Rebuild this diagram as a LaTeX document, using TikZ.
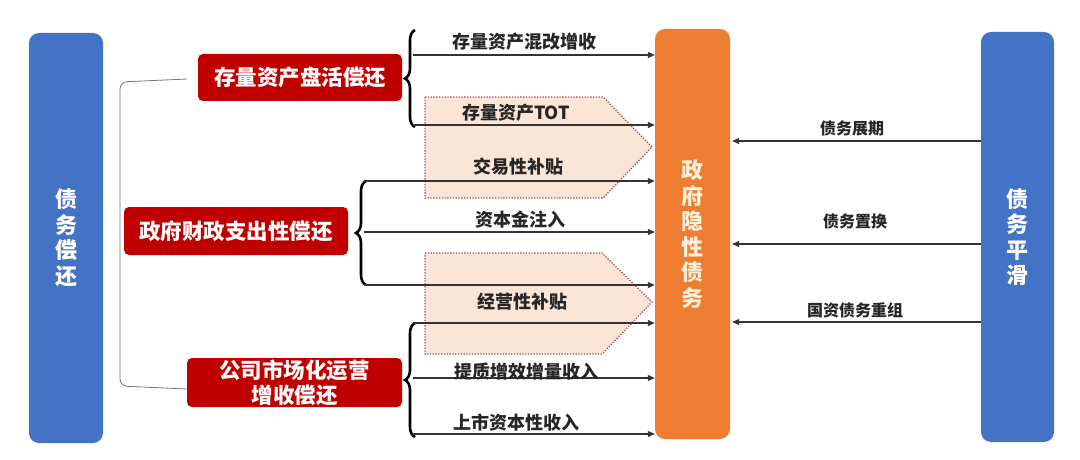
\documentclass[tikz,border=0pt]{standalone}
\usepackage{fontspec}
\newfontfamily\cjk{Noto Sans CJK SC}
\usetikzlibrary{arrows.meta,decorations.pathreplacing}
\definecolor{myblue}{HTML}{4472C4}
\definecolor{myorange}{HTML}{ED7D31}
\definecolor{myred}{HTML}{C00000}
\definecolor{mypeach}{HTML}{FBE5D6}
\definecolor{mydot}{HTML}{A0525A}
\definecolor{orangetext}{HTML}{FFF0DC}
\begin{document}
\begin{tikzpicture}[x=1pt,y=-1pt,
  font=\cjk,
  sidebox/.style={fill=myblue, rounded corners=10pt, text=white, align=center,
     font=\cjk\bfseries\fontsize{22}{25.5}\selectfont, inner sep=0pt},
  centerbox/.style={fill=myorange, rounded corners=10pt, text=orangetext, align=center,
     font=\cjk\bfseries\fontsize{22}{25.5}\selectfont, inner sep=0pt},
  redbox/.style={fill=myred, rounded corners=5pt, text=white, align=center,
     font=\cjk\bfseries\fontsize{21.5}{25}\selectfont, inner sep=0pt},
  lbl/.style={font=\cjk\bfseries\fontsize{18}{20}\selectfont, text=black!85, inner sep=0pt},
  rlbl/.style={font=\cjk\bfseries\fontsize{16}{18}\selectfont, text=black!85, inner sep=0pt},
  flow/.style={draw=black!80, line width=1.1pt, -{Triangle[length=7pt,width=6pt]}},
  bracebar/.style={draw=black, line width=2.6pt, decorate, decoration={brace, amplitude=10pt}},
  pent/.style={fill=mypeach, draw=mydot, line width=1.3pt, dash pattern=on 1.3pt off 1.5pt},
  linkline/.style={draw=black!55, line width=0.8pt, rounded corners=7pt}
]
\useasboundingbox (0,0) rectangle (1080,460);

% arrow-shaped backgrounds
\path[pent] (425,97) -- (603,97) -- (652,147) -- (603,198) -- (425,198) -- cycle;
\path[pent] (425,253) -- (602,253) -- (652,302) -- (602,354) -- (425,354) -- cycle;

% main boxes
\node[sidebox, minimum width=74pt, minimum height=410pt] (L) at (66,238) {债\\务\\偿\\还};
\node[sidebox, minimum width=73pt, minimum height=410pt] (R) at (1017.5,237) {债\\务\\平\\滑};
\node[centerbox, minimum width=75pt, minimum height=410pt] (O) at (692.5,234) {政\\府\\隐\\性\\债\\务};

\node[redbox, minimum width=204pt, minimum height=47pt] (r1) at (300,77.5) {存量资产盘活偿还};
\node[redbox, minimum width=224pt, minimum height=48pt] (r2) at (236,231) {政府财政支出性偿还};
\node[redbox, minimum width=215pt, minimum height=49pt] (r3) at (294.5,382.5) {公司市场化运营\\增收偿还};

% left grey link
\coordinate (k1) at (187,79);
\coordinate (k3) at (187,389);
\draw[linkline] (k1) -- (120,82) -- (120,386) -- (k3);

% braces
\coordinate (b1t) at (415,30);  \coordinate (b1b) at (415,127);
\coordinate (b2t) at (366,181); \coordinate (b2b) at (366,285);
\coordinate (b3t) at (415,323); \coordinate (b3b) at (415,437);
\draw[bracebar] (b1b) -- (b1t);
\draw[bracebar] (b2b) -- (b2t);
\draw[bracebar] (b3b) -- (b3t);

% start points of left flows
\coordinate (s1) at (413,55);
\coordinate (s2) at (413,125);
\coordinate (s3) at (364,181);
\coordinate (s4) at (364,232);
\coordinate (s5) at (364,285);
\coordinate (s6) at (413,323);
\coordinate (s7) at (413,378);
\coordinate (s8) at (413,434);
\foreach \s in {s1,s2,s3,s4,s5,s6,s7,s8}
  \draw[flow] (\s) -- (\s -| O.west);

% right flows
\coordinate (t1) at (981,141);
\coordinate (t2) at (981,244);
\coordinate (t3) at (981,322);
\foreach \t in {t1,t2,t3}
  \draw[flow] (\t -| R.west) -- ([xshift=2pt]\t -| O.east);

% labels
\node[lbl] (l1) at (524,42) {存量资产混改增收};
\node[lbl] (l2) at (516,113) {存量资产TOT};
\node[lbl] (l3) at (518,167) {交易性补贴};
\node[lbl] (l4) at (520,220) {资本金注入};
\node[lbl] (l5) at (522,302) {经营性补贴};
\node[lbl] (l6) at (526,372) {提质增效增量收入};
\node[lbl] (l7) at (516,423) {上市资本性收入};
\node[rlbl] (m1) at (852,128) {债务展期};
\node[rlbl] (m2) at (855,221) {债务置换};
\node[rlbl] (m3) at (855,310) {国资债务重组};
\end{tikzpicture}
\end{document}
